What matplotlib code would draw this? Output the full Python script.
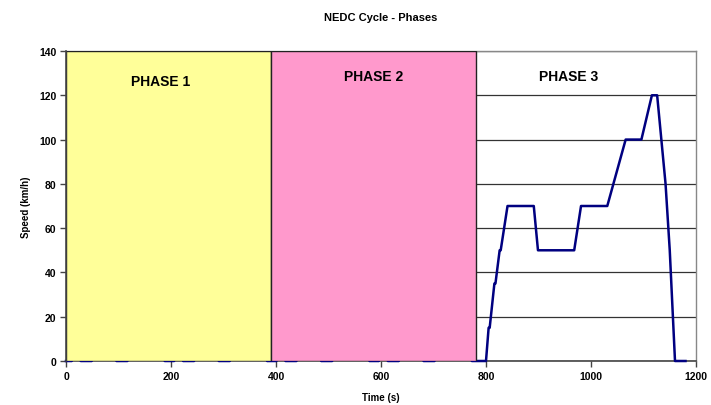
import matplotlib
matplotlib.use("Agg")
import matplotlib.pyplot as plt
from matplotlib.patches import Rectangle

plt.rcParams['font.family'] = ['Liberation Sans', 'DejaVu Sans']
plt.rcParams['font.weight'] = 'bold'

# ECE-15 urban cycle waypoints (time s, speed km/h), one 195 s repetition
ece_t = [0, 11, 15, 23, 25, 28, 49, 54, 56, 61, 85, 93, 96, 117, 122, 124, 133, 135, 143, 155, 163, 176, 178, 185, 188, 195]
ece_v = [0, 0, 15, 15, 10, 0, 0, 15, 15, 32, 32, 10, 0, 0, 15, 15, 35, 35, 50, 50, 35, 35, 32, 10, 0, 0]
ece_reps = [0, 195, 390, 585]

# EUDC waypoints (absolute time s, speed km/h)
eudc_t = [780, 800, 805, 807, 816, 818, 826, 828, 841, 891, 899, 968, 981, 1031, 1066, 1096, 1116, 1126, 1142, 1150, 1160, 1180]
eudc_v = [0, 0, 15, 15, 35, 35, 50, 50, 70, 70, 50, 50, 70, 70, 100, 100, 120, 120, 80, 50, 0, 0]

phase_bounds = [0, 390, 780]
phase_colors = ['#FFFF99', '#FF99CC']
phase_labels = ['PHASE 1', 'PHASE 2', 'PHASE 3']
label_x = [181, 585, 957]
label_y = [126.5, 128.5, 128.5]

x_ticks = [0, 200, 400, 600, 800, 1000, 1200]
y_ticks = [0, 20, 40, 60, 80, 100, 120, 140]

time, speed = [], []
for off in ece_reps:
    for t, v in zip(ece_t, ece_v):
        time.append(off + t)
        speed.append(v)
time += eudc_t
speed += eudc_v

fig = plt.figure(figsize=(7.11, 4.06), dpi=100)
ax = fig.add_axes([66/711, 1 - 362/406, 630/711, 310/406])

ax.set_xlim(0, 1200)
ax.set_ylim(0, 140)
ax.set_yticks(y_ticks)
ax.set_xticks(x_ticks)
ax.grid(axis='y', color='#333333', linewidth=0.9, zorder=1)
ax.set_axisbelow(True)

ax.plot(time, speed, color='#000080', linewidth=1.8, zorder=2.6, clip_on=False)

for i, c in enumerate(phase_colors):
    ax.add_patch(Rectangle((phase_bounds[i], 0), phase_bounds[i + 1] - phase_bounds[i], 140,
                           facecolor=c, edgecolor='#222222', linewidth=1.0, zorder=3))

for lab, x, y in zip(phase_labels, label_x, label_y):
    ax.text(x, y, lab, ha='center', va='center', fontsize=10, fontweight='bold', zorder=4)

for s in ['top', 'right']:
    ax.spines[s].set_color('#888888')
    ax.spines[s].set_linewidth(1.0)
for s in ['left', 'bottom']:
    ax.spines[s].set_color('#444444')
    ax.spines[s].set_linewidth(1.2)
ax.spines['left'].set_zorder(5)

ax.tick_params(axis='both', labelsize=7.5, length=4, width=1, color='#444444', pad=3)
for lbl in ax.get_xticklabels() + ax.get_yticklabels():
    lbl.set_fontweight('bold')

ax.set_xlabel('Time (s)', fontsize=7, fontweight='bold', labelpad=8)
ax.set_ylabel('Speed (km/h)', fontsize=7, fontweight='bold', labelpad=6)
ax.set_title('NEDC Cycle - Phases', fontsize=8, fontweight='bold', pad=22)

fig.savefig('out.png', dpi=100)
